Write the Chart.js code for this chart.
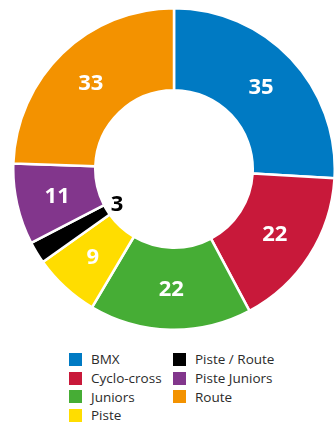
<!DOCTYPE html>
<html>
<head>
<meta charset="utf-8">
<script src="https://cdn.jsdelivr.net/npm/chart.js@4/dist/chart.umd.min.js"></script>
<style>
    html, body { margin: 0; padding: 0; background: #fff; }
    body { width: 336px; height: 423px; position: relative; overflow: hidden; font-family: "Open Sans", sans-serif; }
    #wrap { position: absolute; left: 12px; top: 7px; width: 324px; height: 324px; }
    #legend { position: absolute; left: 69px; top: 350px; display: flex; }
    #legend ul { list-style: none; margin: 0; padding: 0; }
    #legend ul:first-child { width: 104px; }
    #legend li { height: 18.7px; display: flex; align-items: center; font-size: 13.5px; color: #2b2b2b; white-space: nowrap; }
    #legend .box { width: 13px; height: 13px; margin-right: 9px; flex: none; }
</style>
</head>
<body>
<div id="wrap"><canvas id="disciplines"></canvas></div>
<div id="legend"></div>
<script>
const disciplines = ["BMX", "Cyclo-cross", "Juniors", "Piste", "Piste / Route", "Piste Juniors", "Route"];
const counts = [35, 22, 22, 9, 3, 11, 33];
const colors = ["#007ac3", "#c8193a", "#46ad35", "#ffdd00", "#000000", "#82368c", "#f39200"];

// numbers on the ring; tiny slices get a dark label just inside the hole
const valueLabels = {
    id: 'valueLabels',
    afterDatasetsDraw(chart) {
        const ctx = chart.ctx;
        const values = chart.data.datasets[0].data;
        ctx.save();
        ctx.font = 'bold 22px "Open Sans"';
        ctx.textAlign = 'center';
        ctx.textBaseline = 'middle';
        chart.getDatasetMeta(0).data.forEach(function (arc, i) {
            const p = arc.getProps(['x', 'y', 'startAngle', 'endAngle', 'innerRadius', 'outerRadius'], true);
            const mid = (p.startAngle + p.endAngle) / 2;
            const small = values[i] < 5;
            const r = small ? p.innerRadius - 12 : (p.innerRadius + p.outerRadius) / 2;
            ctx.fillStyle = small ? '#000' : '#fff';
            ctx.fillText(values[i], p.x + Math.cos(mid) * r, p.y + Math.sin(mid) * r + 1);
        });
        ctx.restore();
    }
};

const chart = new Chart(document.getElementById('disciplines'), {
    type: 'doughnut',
    data: {
        labels: disciplines,
        datasets: [{
            data: counts,
            backgroundColor: colors,
            borderColor: '#fff',
            borderWidth: 2.5
        }]
    },
    options: {
        responsive: true,
        maintainAspectRatio: false,
        animation: false,
        cutout: '49%',
        layout: { padding: 0 },
        plugins: {
            legend: { display: false },
            tooltip: { enabled: false }
        }
    },
    plugins: [valueLabels]
});

// two-column legend, filled top to bottom
const items = Chart.overrides.doughnut.plugins.legend.labels.generateLabels(chart);
const perCol = Math.ceil(items.length / 2);
const legend = document.getElementById('legend');
[items.slice(0, perCol), items.slice(perCol)].forEach(function (col) {
    const ul = document.createElement('ul');
    col.forEach(function (item) {
        const li = document.createElement('li');
        const box = document.createElement('span');
        box.className = 'box';
        box.style.background = item.fillStyle;
        li.appendChild(box);
        li.appendChild(document.createTextNode(item.text));
        ul.appendChild(li);
    });
    legend.appendChild(ul);
});
</script>
</body>
</html>
